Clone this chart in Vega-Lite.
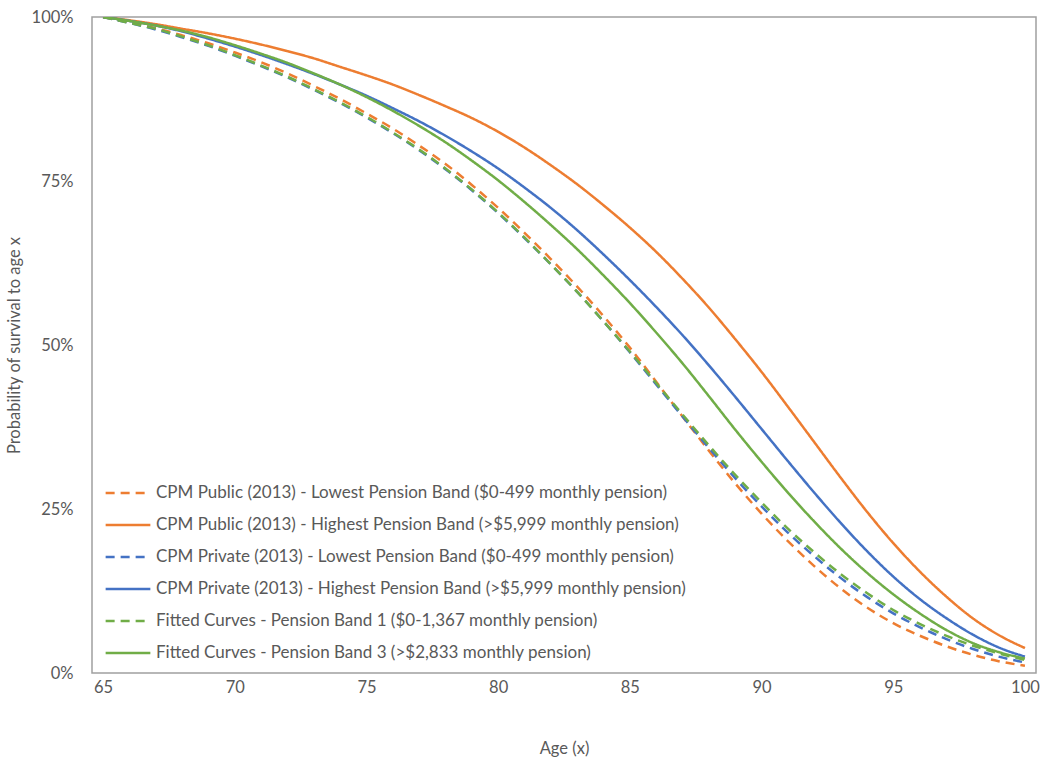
{
  "$schema": "https://vega.github.io/schema/vega-lite/v6.json",
  "width": 944,
  "height": 656,
  "autosize": {"type": "none"},
  "padding": {"left": 92, "top": 17, "right": 6, "bottom": 88},
  "background": "white",
  "config": {
    "font": "Lato",
    "view": {"stroke": "#a0a0a0", "strokeWidth": 1.5},
    "axis": {"grid": false, "domain": false, "ticks": false, "labelColor": "#595959", "titleColor": "#595959", "labelFont": "Lato", "titleFont": "Lato", "labelFontSize": 16.5, "titleFontSize": 16.5, "titleFontWeight": "normal"},
    "legend": {"labelFont": "Lato", "labelFontSize": 17, "labelColor": "#595959"}
  },
  "data": {"values": [
    {"age": 65, "a": 1.000, "b": 1.000, "c": 1.000, "d": 1.000, "e": 1.000, "f": 1.000},
    {"age": 66, "a": 0.992, "b": 0.995, "c": 0.991, "d": 0.994, "e": 0.991, "f": 0.994},
    {"age": 67, "a": 0.983, "b": 0.989, "c": 0.981, "d": 0.987, "e": 0.982, "f": 0.987},
    {"age": 68, "a": 0.972, "b": 0.982, "c": 0.969, "d": 0.978, "e": 0.970, "f": 0.979},
    {"age": 69, "a": 0.960, "b": 0.975, "c": 0.956, "d": 0.967, "e": 0.957, "f": 0.969},
    {"age": 70, "a": 0.946, "b": 0.967, "c": 0.941, "d": 0.955, "e": 0.942, "f": 0.957},
    {"age": 71, "a": 0.931, "b": 0.958, "c": 0.925, "d": 0.942, "e": 0.926, "f": 0.944},
    {"age": 72, "a": 0.914, "b": 0.948, "c": 0.908, "d": 0.928, "e": 0.909, "f": 0.930},
    {"age": 73, "a": 0.895, "b": 0.937, "c": 0.889, "d": 0.913, "e": 0.890, "f": 0.914},
    {"age": 74, "a": 0.875, "b": 0.924, "c": 0.869, "d": 0.897, "e": 0.870, "f": 0.897},
    {"age": 75, "a": 0.853, "b": 0.911, "c": 0.847, "d": 0.880, "e": 0.848, "f": 0.878},
    {"age": 76, "a": 0.830, "b": 0.897, "c": 0.823, "d": 0.861, "e": 0.824, "f": 0.857},
    {"age": 77, "a": 0.804, "b": 0.881, "c": 0.797, "d": 0.841, "e": 0.798, "f": 0.834},
    {"age": 78, "a": 0.776, "b": 0.864, "c": 0.768, "d": 0.819, "e": 0.769, "f": 0.809},
    {"age": 79, "a": 0.744, "b": 0.846, "c": 0.736, "d": 0.795, "e": 0.737, "f": 0.781},
    {"age": 80, "a": 0.709, "b": 0.825, "c": 0.701, "d": 0.769, "e": 0.702, "f": 0.751},
    {"age": 81, "a": 0.671, "b": 0.801, "c": 0.663, "d": 0.740, "e": 0.664, "f": 0.718},
    {"age": 82, "a": 0.631, "b": 0.774, "c": 0.623, "d": 0.709, "e": 0.623, "f": 0.683},
    {"age": 83, "a": 0.589, "b": 0.745, "c": 0.581, "d": 0.675, "e": 0.581, "f": 0.646},
    {"age": 84, "a": 0.544, "b": 0.713, "c": 0.536, "d": 0.638, "e": 0.536, "f": 0.606},
    {"age": 85, "a": 0.496, "b": 0.679, "c": 0.489, "d": 0.599, "e": 0.490, "f": 0.564},
    {"age": 86, "a": 0.444, "b": 0.642, "c": 0.440, "d": 0.558, "e": 0.442, "f": 0.519},
    {"age": 87, "a": 0.391, "b": 0.601, "c": 0.391, "d": 0.515, "e": 0.394, "f": 0.472},
    {"age": 88, "a": 0.339, "b": 0.557, "c": 0.343, "d": 0.469, "e": 0.347, "f": 0.422},
    {"age": 89, "a": 0.289, "b": 0.509, "c": 0.297, "d": 0.421, "e": 0.302, "f": 0.371},
    {"age": 90, "a": 0.243, "b": 0.459, "c": 0.254, "d": 0.372, "e": 0.260, "f": 0.322},
    {"age": 91, "a": 0.201, "b": 0.406, "c": 0.214, "d": 0.323, "e": 0.220, "f": 0.275},
    {"age": 92, "a": 0.163, "b": 0.352, "c": 0.178, "d": 0.275, "e": 0.184, "f": 0.231},
    {"age": 93, "a": 0.129, "b": 0.298, "c": 0.145, "d": 0.229, "e": 0.151, "f": 0.190},
    {"age": 94, "a": 0.100, "b": 0.246, "c": 0.116, "d": 0.186, "e": 0.122, "f": 0.153},
    {"age": 95, "a": 0.076, "b": 0.198, "c": 0.091, "d": 0.147, "e": 0.096, "f": 0.120},
    {"age": 96, "a": 0.057, "b": 0.155, "c": 0.070, "d": 0.113, "e": 0.075, "f": 0.091},
    {"age": 97, "a": 0.041, "b": 0.117, "c": 0.052, "d": 0.084, "e": 0.057, "f": 0.066},
    {"age": 98, "a": 0.028, "b": 0.084, "c": 0.037, "d": 0.059, "e": 0.042, "f": 0.046},
    {"age": 99, "a": 0.018, "b": 0.058, "c": 0.025, "d": 0.039, "e": 0.030, "f": 0.032},
    {"age": 100, "a": 0.011, "b": 0.038, "c": 0.016, "d": 0.025, "e": 0.020, "f": 0.022}
  ]},
  "transform": [{"fold": ["a", "b", "c", "d", "e", "f"], "as": ["series", "p"]}],
  "mark": {"type": "line", "strokeWidth": 2.5, "interpolate": "monotone", "clip": true},
  "encoding": {
    "x": {"field": "age", "type": "quantitative", "scale": {"domain": [64.58, 100.42], "nice": false, "zero": false},
      "axis": {"values": [65, 70, 75, 80, 85, 90, 95, 100], "title": "Age (x)", "labelPadding": 6, "titlePadding": 45}},
    "y": {"field": "p", "type": "quantitative", "scale": {"domain": [0, 1], "nice": false},
      "axis": {"values": [0, 0.25, 0.5, 0.75, 1], "format": ".0%", "title": "Probability of survival to age x", "labelPadding": 19, "titlePadding": 9}},
    "color": {"field": "series", "type": "nominal",
      "scale": {"domain": ["a", "b", "c", "d", "e", "f"], "range": ["#ED7D31", "#ED7D31", "#4472C4", "#4472C4", "#70AD47", "#70AD47"]},
      "legend": {"title": null, "orient": "none", "legendX": 12, "legendY": 452, "symbolType": "stroke", "symbolStrokeWidth": 2.5, "symbolSize": 2000, "rowPadding": -13, "labelOffset": 4, "labelLimit": 0,
        "labelExpr": "datum.value == 'a' ? 'CPM Public (2013) - Lowest Pension Band ($0-499 monthly pension)' : datum.value == 'b' ? 'CPM Public (2013) - Highest Pension Band (>$5,999 monthly pension)' : datum.value == 'c' ? 'CPM Private (2013) - Lowest Pension Band ($0-499 monthly pension)' : datum.value == 'd' ? 'CPM Private (2013) - Highest Pension Band (>$5,999 monthly pension)' : datum.value == 'e' ? 'Fitted Curves - Pension Band 1 ($0-1,367 monthly pension)' : 'Fitted Curves - Pension Band 3 (>$2,833 monthly pension)'"}},
    "strokeDash": {"field": "series", "type": "nominal",
      "scale": {"domain": ["a", "b", "c", "d", "e", "f"], "range": [[9, 6], [1, 0], [9, 6], [1, 0], [9, 6], [1, 0]]},
      "legend": {"title": null}}
  }
}
